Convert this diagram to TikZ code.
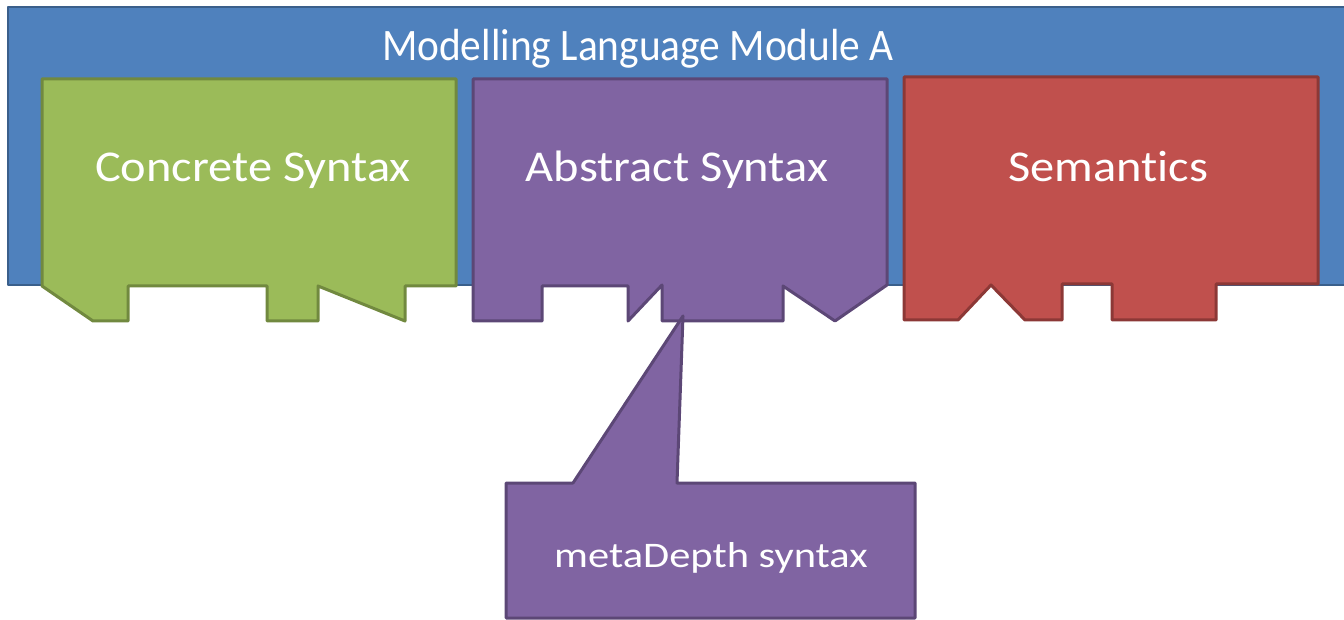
\documentclass[tikz,border=0pt]{standalone}
\usepackage{fontspec}
\setmainfont{Carlito}
\newfontfamily\narrowfont[FakeStretch=0.92,Ligatures=NoCommon]{Carlito}
\newfontfamily\widefont[FakeStretch=1.10,Ligatures=NoCommon]{Carlito}
\newfontfamily\widerfont[FakeStretch=1.18,Ligatures=NoCommon]{Carlito}

\definecolor{modfill}{HTML}{4F81BD}
\definecolor{modline}{HTML}{3A5F8B}
\definecolor{csfill}{HTML}{9BBB59}
\definecolor{csline}{HTML}{71893F}
\definecolor{asfill}{HTML}{8064A2}
\definecolor{asline}{HTML}{5C4776}
\definecolor{semfill}{HTML}{C0504D}
\definecolor{semline}{HTML}{8C3836}

\begin{document}
\begin{tikzpicture}[x=1pt,y=-1pt,line join=round]
        \tikzstyle{every node}+=[inner sep=0pt, text=white]
        \tikzstyle{bigtext}=[anchor=base, font=\widefont\fontsize{44}{50}\selectfont]
        \useasboundingbox (0,0) rectangle (1344,620);
        % module frame
        \draw [modline, fill=modfill, line width=2pt] (8,7) rectangle (1360,285);
        \node (module) [anchor=base, font=\narrowfont\fontsize{45}{50}\selectfont] at (638,61) {Modelling Language Module A};
        % concrete syntax
        \draw [csline, fill=csfill, line width=3pt] (42,79) -- (456,79) -- (456,286) -- (405,286)
                -- (405,321) -- (318,286) -- (318,321) -- (267,321) -- (267,286) -- (128,286)
                -- (128,321) -- (93,321) -- (42,286) -- cycle;
        \node (concrete) [bigtext] at (253,182) {Concrete Syntax};
        % abstract syntax
        \draw [asline, fill=asfill, line width=3pt] (473,79) -- (887,79) -- (887,285) -- (835,321)
                -- (783,286) -- (783,321) -- (662,321) -- (662,285) -- (628,321) -- (628,286)
                -- (542,286) -- (542,321) -- (473,321) -- cycle;
        \node (abstract) [bigtext] at (677,182) {Abstract Syntax};
        % semantics
        \draw [semline, fill=semfill, line width=3pt] (904,77) -- (1318,77) -- (1318,284) -- (1216,284)
                -- (1216,320) -- (1112,320) -- (1112,284) -- (1062,284) -- (1062,320) -- (1025,320)
                -- (991,285) -- (958,320) -- (904,320) -- cycle;
        \node (semantics) [bigtext] at (1108,182) {Semantics};
        % callout
        \draw [asline, fill=asfill, line width=3pt] (506,483) -- (573,483) -- (683,316) -- (677,483)
                -- (915,483) -- (915,618) -- (506,618) -- cycle;
        \node (meta) [anchor=base, font=\widerfont\fontsize{36}{42}\selectfont] at (711,567) {metaDepth syntax};
    \end{tikzpicture}
\end{document}
